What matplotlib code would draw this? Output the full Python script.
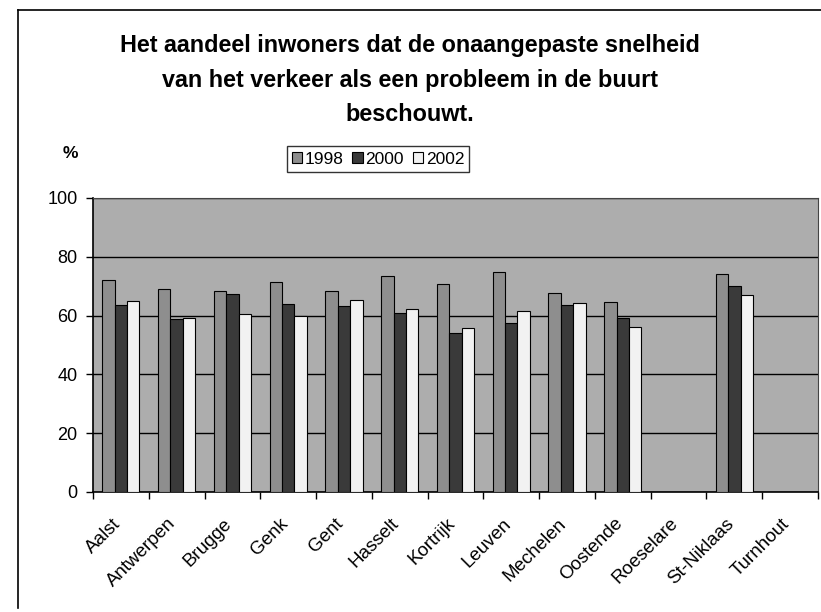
import matplotlib
matplotlib.use("Agg")
import matplotlib.pyplot as plt
import numpy as np
from matplotlib.lines import Line2D
import matplotlib.transforms as mtransforms

categories = ["Aalst", "Antwerpen", "Brugge", "Genk", "Gent", "Hasselt", "Kortrijk",
              "Leuven", "Mechelen", "Oostende", "Roeselare", "St-Niklaas", "Turnhout"]
series_names = ["1998", "2000", "2002"]
v1998 = [72, 69.2, 68.3, 71.4, 68.4, 73.6, 70.6, 74.7, 67.7, 64.7, np.nan, 74, np.nan]
v2000 = [63.6, 59, 67.3, 63.8, 63.3, 60.8, 54.2, 57.5, 63.7, 59.3, np.nan, 70.2, np.nan]
v2002 = [65, 59.3, 60.4, 59.9, 65.2, 62.2, 55.8, 61.5, 64.3, 56, np.nan, 66.9, np.nan]
y_ticks = [0, 20, 40, 60, 80, 100]

colors = ["#8e8e8e", "#3a3a3a", "#f2f2f2"]
font = "Liberation Sans"

fig = plt.figure(figsize=(8.21, 6.12), dpi=100)
fig.patch.set_facecolor("white")

# outer chart border
fig.add_artist(Line2D([18/821, 18/821], [1 - 10/612, 1 - 608/612], color="black", lw=1.2))
fig.add_artist(Line2D([18/821, 1.0], [1 - 10/612, 1 - 10/612], color="black", lw=1.2))

ax = fig.add_axes([93/821, 1 - 492/612, (818 - 93)/821, (492 - 198)/612])
ax.set_facecolor("#adadad")

n = len(categories)
x = np.arange(n)
w = 1 / 4.5
for i, (vals, c, name) in enumerate(zip([v1998, v2000, v2002], colors, series_names)):
    ax.bar(x + (i - 1) * w, vals, width=w, color=c, edgecolor="black", linewidth=0.8,
           label=name, zorder=3)

ax.set_xlim(-0.5, n - 0.5)
ax.set_ylim(0, 100)
ax.set_yticks(y_ticks)
ax.set_yticklabels([str(t) for t in y_ticks], fontsize=13, family=font)
ax.yaxis.grid(True, color="black", linewidth=1.0, zorder=1)
ax.set_axisbelow(True)

ax.set_xticks(np.arange(n + 1) - 0.5)
ax.set_xticklabels([])
ax.tick_params(axis="x", which="major", length=5, width=1.0, direction="out")
ax.tick_params(axis="y", length=5, width=1.0, direction="out", pad=6)

base = mtransforms.blended_transform_factory(ax.transData, ax.transAxes)
offset = mtransforms.ScaledTranslation(-9/100, -23/100, fig.dpi_scale_trans)
for xi, name in zip(x, categories):
    ax.text(xi, 0, name, transform=base + offset, rotation=45, ha="right", va="top",
            rotation_mode="anchor", fontsize=13.5, family=font, clip_on=False)

for s in ["top", "right"]:
    ax.spines[s].set_linewidth(0.8)
    ax.spines[s].set_color("#444444")
ax.spines["left"].set_linewidth(1.2)
ax.spines["bottom"].set_linewidth(1.2)

fig.text(410/821, 1 - 80/612,
         "Het aandeel inwoners dat de onaangepaste snelheid\nvan het verkeer als een probleem in de buurt\nbeschouwt.",
         ha="center", va="center", fontsize=16.8, fontweight="bold", family=font,
         linespacing=1.62)
fig.text(70/821, 1 - 153/612, "%", ha="center", va="center", fontsize=12.5,
         fontweight="bold", family=font)

leg = fig.legend(loc="center", bbox_to_anchor=(378/821, 1 - 159/612), ncol=3,
                 frameon=True, fancybox=False, edgecolor="black",
                 prop={"family": font, "size": 12.5}, handlelength=0.6, handleheight=0.6,
                 handletextpad=0.15, columnspacing=0.5, borderpad=0.3, borderaxespad=0)
leg.get_frame().set_linewidth(1.0)

fig.savefig("out.png", dpi=100)
